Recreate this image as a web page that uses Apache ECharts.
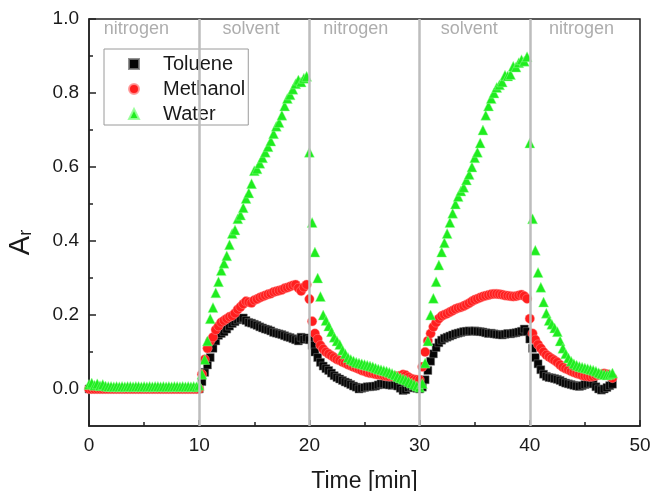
<!DOCTYPE html>
<html>
<head>
<meta charset="utf-8">
<script src="https://cdn.jsdelivr.net/npm/echarts@6/dist/echarts.min.js"></script>
<style>
  html, body { margin: 0; padding: 0; background: #fff; }
  #chart { width: 652px; height: 491px; }
</style>
</head>
<body>
<div id="chart"></div>
<script>
// Readings are taken every quarter minute, starting at t = 0 min.
const sampleStep = 0.25;

const seriesNames = ['Toluene', 'Methanol', 'Water'];

// Relative response A_r, one line per gas phase (0-10, 10-20, 20-30, 30-40, 40-47.5 min)
const toluene = [
  0,0,0,0,0,0,0,0,0,0,0,0,0,0,0,0,0,0,0,0,0,0,0,0,0,0,0,0,0,0,0,0,0,0,0,0,0,0,0,0,
  0.0,0.02,0.045,0.065,0.085,0.11,0.13,0.145,0.15,0.155,0.162,0.17,0.177,0.182,0.187,0.19,0.192,0.185,0.18,0.178,0.175,0.172,0.168,0.165,0.162,0.16,0.157,0.153,0.151,0.149,0.147,0.144,0.141,0.139,0.136,0.133,0.13,0.14,0.134,0.138,
  0.133,0.118,0.1,0.085,0.072,0.062,0.055,0.05,0.043,0.036,0.031,0.027,0.023,0.019,0.016,0.012,0.008,0.005,0.0,0.002,0.004,0.006,0.006,0.007,0.008,0.011,0.014,0.014,0.012,0.011,0.01,0.012,0.008,0.002,-0.004,-0.002,0.004,0.006,0.003,0.002,
  0.0,0.005,0.025,0.05,0.075,0.095,0.112,0.125,0.132,0.137,0.14,0.143,0.146,0.149,0.151,0.153,0.155,0.156,0.157,0.156,0.157,0.156,0.155,0.154,0.152,0.15,0.151,0.149,0.148,0.147,0.146,0.148,0.15,0.149,0.151,0.152,0.154,0.156,0.162,0.155,
  0.135,0.11,0.085,0.068,0.052,0.04,0.034,0.031,0.03,0.028,0.026,0.023,0.019,0.016,0.014,0.012,0.01,0.008,0.007,0.009,0.012,0.014,0.016,0.014,0.006,0.0,-0.003,0.0,0.004,0.009,0.013
];

const methanol = [
  0,0,0,0,0,0,0,0,0,0,0,0,0,0,0,0,0,0,0,0,0,0,0,0,0,0,0,0,0,0,0,0,0,0,0,0,0,0,0,0,
  0.0,0.04,0.08,0.11,0.13,0.14,0.16,0.17,0.18,0.185,0.19,0.195,0.198,0.205,0.215,0.222,0.23,0.237,0.235,0.233,0.24,0.243,0.247,0.25,0.253,0.256,0.258,0.262,0.264,0.266,0.268,0.272,0.274,0.277,0.28,0.282,0.273,0.265,0.275,0.282,
  0.243,0.183,0.15,0.135,0.118,0.108,0.1,0.095,0.09,0.085,0.08,0.077,0.073,0.07,0.066,0.063,0.06,0.057,0.054,0.05,0.048,0.045,0.043,0.042,0.04,0.039,0.038,0.036,0.035,0.034,0.034,0.035,0.034,0.036,0.039,0.037,0.032,0.028,0.026,0.025,
  0.025,0.06,0.1,0.13,0.15,0.168,0.18,0.19,0.197,0.201,0.204,0.208,0.212,0.216,0.219,0.221,0.224,0.228,0.232,0.237,0.241,0.244,0.247,0.25,0.252,0.254,0.256,0.257,0.257,0.256,0.255,0.253,0.252,0.251,0.25,0.251,0.253,0.255,0.251,0.244,
  0.19,0.15,0.133,0.12,0.11,0.1,0.092,0.087,0.082,0.077,0.072,0.065,0.059,0.055,0.052,0.048,0.045,0.042,0.04,0.037,0.035,0.034,0.033,0.034,0.036,0.038,0.04,0.042,0.04,0.035,0.03
];

const water = [
  0.012,0.016,0.01,0.014,0.009,0.012,0.008,0.007,0.007,0.006,0.007,0.006,0.007,0.006,0.007,0.007,0.006,0.007,0.007,0.006,0.007,0.006,0.007,0.006,0.007,0.007,0.006,0.007,0.006,0.007,0.006,0.007,0.007,0.006,0.007,0.006,0.007,0.006,0.007,0.006,
  0.01,0.04,0.08,0.13,0.19,0.22,0.26,0.29,0.32,0.34,0.36,0.39,0.42,0.43,0.46,0.47,0.49,0.515,0.53,0.555,0.59,0.595,0.61,0.625,0.64,0.655,0.67,0.69,0.71,0.72,0.74,0.765,0.785,0.795,0.81,0.825,0.835,0.83,0.84,0.845,
  0.64,0.45,0.37,0.3,0.25,0.2,0.185,0.17,0.155,0.14,0.13,0.12,0.105,0.095,0.085,0.08,0.076,0.072,0.07,0.068,0.066,0.064,0.062,0.06,0.057,0.054,0.052,0.05,0.048,0.045,0.042,0.038,0.034,0.03,0.027,0.024,0.02,0.016,0.012,0.008,
  0.005,0.015,0.07,0.13,0.2,0.245,0.29,0.335,0.37,0.395,0.42,0.45,0.475,0.5,0.52,0.535,0.545,0.565,0.58,0.6,0.625,0.64,0.665,0.7,0.74,0.765,0.785,0.8,0.815,0.822,0.83,0.848,0.846,0.85,0.872,0.87,0.882,0.89,0.886,0.898,
  0.665,0.46,0.375,0.315,0.275,0.235,0.205,0.185,0.175,0.165,0.155,0.13,0.11,0.095,0.084,0.075,0.068,0.064,0.061,0.059,0.057,0.055,0.053,0.051,0.048,0.044,0.041,0.039,0.038,0.04,0.043
];

// Gas switching times and phase captions
const phaseSwitchTimes = [10, 20, 30, 40];
const phaseNames = ['nitrogen', 'solvent', 'nitrogen', 'solvent', 'nitrogen'];
const phaseLabelTimes = [4.3, 14.7, 24.2, 34.5, 44.7];
const phaseLabelLevel = 0.973;

// Axis ticks
const yMajorTicks = [0, 0.2, 0.4, 0.6, 0.8, 1.0];
const yMinorTicks = [0.1, 0.3, 0.5, 0.7, 0.9];

const font = "'Liberation Sans', Arial, Helvetica, sans-serif";
const ink = '#1a1a1a';

function toPoints(values) {
  return values.map((v, i) => [i * sampleStep, v]);
}

const chart = echarts.init(document.getElementById('chart'), null, { renderer: 'canvas' });

chart.setOption({
  animation: false,
  backgroundColor: '#ffffff',
  grid: {
    left: 89, top: 19, width: 551, height: 407,
    outerBoundsMode: 'none', containLabel: false,
    show: true, borderColor: '#222', borderWidth: 1.5, backgroundColor: 'transparent'
  },
  legend: {
    data: seriesNames,
    orient: 'vertical',
    left: 104, top: 49,
    itemWidth: 10, itemHeight: 10, itemGap: 5,
    padding: [5, 3, 1, 24],
    borderColor: '#9a9a9a', borderWidth: 1,
    backgroundColor: '#fff',
    textStyle: { fontFamily: font, fontSize: 20, color: ink, lineHeight: 20, padding: [0, 0, 0, 19] }
  },
  xAxis: {
    type: 'value', min: 0, max: 50, interval: 10,
    name: 'Time [min]', nameLocation: 'middle', nameGap: 44,
    nameTextStyle: { fontFamily: font, fontSize: 23, color: ink },
    axisLine: { show: true, onZero: false, lineStyle: { color: '#222', width: 1.5 } },
    axisTick: { show: true, inside: true, length: 6, lineStyle: { color: '#222', width: 1.5 } },
    minorTick: { show: true, splitNumber: 2, length: 4, lineStyle: { color: '#222', width: 1.5 } },
    axisLabel: { fontFamily: font, fontSize: 19, color: ink, margin: 10 },
    splitLine: { show: false },
    minorSplitLine: { show: false }
  },
  yAxis: [
    {
      type: 'value', min: -0.1, max: 1.0, position: 'left',
      name: '{a|A}{s|r}', nameLocation: 'middle', nameGap: 54,
      nameTextStyle: {
        padding: [0, 40, 0, 0],
        rich: {
          a: { fontFamily: font, fontSize: 29, lineHeight: 29, color: ink, verticalAlign: 'bottom' },
          s: { fontFamily: font, fontSize: 18, lineHeight: 10, color: ink, verticalAlign: 'bottom' }
        }
      },
      axisLine: { show: true, onZero: false, lineStyle: { color: '#222', width: 1.5 } },
      axisTick: { show: true, inside: true, length: 7, customValues: yMajorTicks, lineStyle: { color: '#222', width: 1.5 } },
      axisLabel: {
        fontFamily: font, fontSize: 19, color: ink, margin: 10,
        customValues: yMajorTicks,
        formatter: v => v.toFixed(1)
      },
      splitLine: { show: false }
    },
    {
      type: 'value', min: -0.1, max: 1.0, position: 'left',
      axisLine: { show: false },
      axisTick: { show: true, inside: true, length: 4, customValues: yMinorTicks, lineStyle: { color: '#222', width: 1.5 } },
      axisLabel: { show: false },
      splitLine: { show: false }
    }
  ],
  series: [
    {
      // gas switching markers
      type: 'line', name: 'switch', data: [], z: 1, silent: true,
      markLine: {
        silent: true, symbol: 'none', animation: false,
        label: { show: false },
        lineStyle: { color: '#bdbdbd', width: 2.5, type: 'solid' },
        data: phaseSwitchTimes.map(t => ({ xAxis: t }))
      }
    },
    {
      // phase captions along the top of the plot
      type: 'scatter', name: 'phase', z: 3, silent: true,
      symbolSize: 0,
      label: {
        show: true, position: 'inside', formatter: '{b}',
        fontFamily: font, fontSize: 18, color: '#999'
      },
      data: phaseNames.map((n, i) => ({ name: n, value: [phaseLabelTimes[i], phaseLabelLevel] }))
    },
    {
      type: 'scatter', name: 'Toluene', z: 2,
      symbol: 'rect', symbolSize: 8,
      itemStyle: { color: '#050505', opacity: 1, borderColor: 'rgba(120,120,120,0.8)', borderWidth: 0.6 },
      data: toPoints(toluene)
    },
    {
      type: 'scatter', name: 'Methanol', z: 2,
      symbol: 'circle', symbolSize: 9.5,
      itemStyle: { color: '#ff1e1e', opacity: 1, borderColor: 'rgba(255,150,150,0.9)', borderWidth: 0.5 },
      data: toPoints(methanol)
    },
    {
      type: 'scatter', name: 'Water', z: 2,
      symbol: 'triangle', symbolSize: 10,
      itemStyle: { color: '#1fec1f', opacity: 1, borderColor: 'rgba(150,255,150,0.9)', borderWidth: 0.5 },
      data: toPoints(water)
    }
  ]
});
</script>
</body>
</html>
